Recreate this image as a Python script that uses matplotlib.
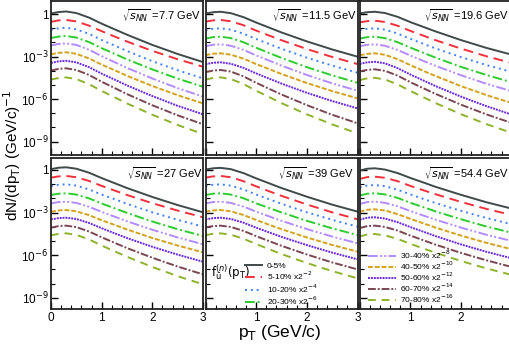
import matplotlib
matplotlib.use('Agg')
import matplotlib.pyplot as plt
import numpy as np
from matplotlib.ticker import FixedLocator, MultipleLocator, NullFormatter

plt.rcParams.update({'font.family': ['Liberation Sans', 'DejaVu Sans'],
                     'mathtext.fontset': 'dejavusans'})

# ---- data (log10 of dN/dpT) ----
pt = [0.0, 0.15, 0.3, 0.5, 0.75, 1.0, 1.25, 1.5, 2.0, 2.5, 3.0]

energies = ['7.7', '11.5', '19.6', '27', '39', '54.4']
centralities = ['0-5%', '5-10% x2$^{-2}$', '10-20% x2$^{-4}$', '20-30% x2$^{-6}$',
                '30-40% x2$^{-8}$', '40-50% x2$^{-10}$', '50-60% x2$^{-12}$',
                '60-70% x2$^{-14}$', '70-80% x2$^{-16}$']

logy_7p7 = [
    [0.04, 0.14, 0.18, 0.07, -0.25, -0.68, -1.07, -1.46, -2.18, -2.82, -3.39],
    [-0.55, -0.45, -0.42, -0.52, -0.82, -1.21, -1.58, -1.94, -2.60, -3.19, -3.72],
    [-1.11, -1.01, -0.97, -1.08, -1.40, -1.83, -2.22, -2.61, -3.33, -3.97, -4.54],
    [-1.69, -1.59, -1.55, -1.66, -1.98, -2.41, -2.80, -3.20, -3.91, -4.56, -5.13],
    [-2.22, -2.11, -2.07, -2.18, -2.52, -2.97, -3.39, -3.80, -4.55, -5.23, -5.83],
    [-2.84, -2.74, -2.70, -2.81, -3.13, -3.57, -3.96, -4.36, -5.08, -5.73, -6.31],
    [-3.45, -3.34, -3.30, -3.41, -3.75, -4.21, -4.62, -5.04, -5.79, -6.48, -7.08],
    [-3.99, -3.87, -3.83, -3.95, -4.30, -4.78, -5.21, -5.65, -6.44, -7.15, -7.78],
    [-4.63, -4.51, -4.47, -4.59, -4.95, -5.43, -5.87, -6.31, -7.11, -7.83, -8.47],
]
logy_11p5 = [
    [0.03, 0.13, 0.16, 0.06, -0.22, -0.60, -0.95, -1.30, -1.93, -2.50, -3.01],
    [-0.54, -0.45, -0.42, -0.51, -0.79, -1.17, -1.51, -1.85, -2.47, -3.03, -3.53],
    [-1.14, -1.04, -1.01, -1.10, -1.39, -1.76, -2.11, -2.45, -3.08, -3.64, -4.14],
    [-1.73, -1.63, -1.60, -1.70, -1.99, -2.38, -2.74, -3.10, -3.75, -4.33, -4.85],
    [-2.27, -2.17, -2.14, -2.24, -2.53, -2.92, -3.28, -3.64, -4.30, -4.89, -5.41],
    [-2.90, -2.80, -2.77, -2.87, -3.15, -3.53, -3.88, -4.23, -4.87, -5.44, -5.95],
    [-3.54, -3.44, -3.41, -3.51, -3.80, -4.19, -4.55, -4.91, -5.56, -6.14, -6.66],
    [-4.10, -3.99, -3.95, -4.06, -4.40, -4.85, -5.27, -5.68, -6.43, -7.11, -7.71],
    [-4.63, -4.51, -4.47, -4.59, -4.94, -5.42, -5.85, -6.29, -7.08, -7.79, -8.42],
]
logy_19p6 = [
    [0.04, 0.13, 0.16, 0.07, -0.20, -0.57, -0.90, -1.23, -1.84, -2.39, -2.87],
    [-0.59, -0.50, -0.47, -0.56, -0.83, -1.19, -1.52, -1.85, -2.44, -2.98, -3.46],
    [-1.13, -1.04, -1.01, -1.10, -1.38, -1.75, -2.09, -2.43, -3.04, -3.60, -4.09],
    [-1.73, -1.63, -1.60, -1.70, -1.99, -2.37, -2.73, -3.08, -3.73, -4.30, -4.82],
    [-2.27, -2.17, -2.14, -2.24, -2.54, -2.93, -3.30, -3.66, -4.32, -4.92, -5.45],
    [-2.91, -2.81, -2.77, -2.88, -3.19, -3.61, -4.00, -4.38, -5.09, -5.72, -6.28],
    [-3.52, -3.41, -3.37, -3.48, -3.82, -4.27, -4.68, -5.09, -5.83, -6.50, -7.10],
    [-4.05, -3.94, -3.90, -4.01, -4.35, -4.81, -5.23, -5.64, -6.40, -7.08, -7.69],
    [-4.66, -4.54, -4.50, -4.62, -4.97, -5.43, -5.86, -6.29, -7.07, -7.77, -8.39],
]
logy_27 = [
    [0.06, 0.16, 0.19, 0.09, -0.19, -0.57, -0.92, -1.27, -1.90, -2.47, -2.98],
    [-0.54, -0.45, -0.42, -0.51, -0.77, -1.12, -1.44, -1.76, -2.34, -2.86, -3.33],
    [-1.13, -1.04, -1.01, -1.10, -1.37, -1.73, -2.05, -2.38, -2.98, -3.51, -3.99],
    [-1.76, -1.67, -1.64, -1.73, -2.00, -2.36, -2.69, -3.02, -3.63, -4.17, -4.65],
    [-2.35, -2.26, -2.23, -2.32, -2.59, -2.95, -3.28, -3.61, -4.21, -4.75, -5.23],
    [-2.94, -2.85, -2.82, -2.91, -3.18, -3.54, -3.86, -4.19, -4.79, -5.32, -5.80],
    [-3.48, -3.39, -3.36, -3.45, -3.73, -4.10, -4.45, -4.79, -5.41, -5.96, -6.46],
    [-4.06, -3.95, -3.92, -4.02, -4.33, -4.74, -5.12, -5.50, -6.18, -6.80, -7.35],
    [-4.60, -4.50, -4.46, -4.57, -4.89, -5.32, -5.72, -6.11, -6.83, -7.48, -8.05],
]
logy_39 = [
    [0.03, 0.12, 0.15, 0.06, -0.22, -0.59, -0.93, -1.27, -1.88, -2.44, -2.93],
    [-0.54, -0.45, -0.42, -0.51, -0.79, -1.15, -1.49, -1.82, -2.43, -2.98, -3.47],
    [-1.13, -1.04, -1.01, -1.10, -1.37, -1.73, -2.05, -2.38, -2.98, -3.51, -3.99],
    [-1.76, -1.67, -1.64, -1.73, -1.99, -2.35, -2.67, -2.99, -3.58, -4.11, -4.58],
    [-2.35, -2.26, -2.23, -2.32, -2.58, -2.93, -3.26, -3.58, -4.16, -4.69, -5.16],
    [-2.94, -2.85, -2.82, -2.91, -3.17, -3.52, -3.85, -4.17, -4.75, -5.28, -5.75],
    [-3.48, -3.39, -3.36, -3.45, -3.71, -4.06, -4.39, -4.71, -5.29, -5.82, -6.29],
    [-4.04, -3.95, -3.92, -4.01, -4.29, -4.66, -5.00, -5.34, -5.95, -6.51, -7.00],
    [-4.59, -4.49, -4.46, -4.56, -4.84, -5.22, -5.57, -5.92, -6.55, -7.12, -7.63],
]
logy_54p4 = [
    [-0.04, 0.09, 0.12, 0.03, -0.22, -0.56, -0.87, -1.19, -1.75, -2.27, -2.72],
    [-0.63, -0.50, -0.47, -0.55, -0.79, -1.12, -1.42, -1.71, -2.25, -2.74, -3.17],
    [-1.22, -1.09, -1.06, -1.14, -1.39, -1.72, -2.03, -2.33, -2.88, -3.38, -3.82],
    [-1.80, -1.67, -1.64, -1.72, -1.97, -2.31, -2.61, -2.92, -3.47, -3.98, -4.42],
    [-2.39, -2.26, -2.23, -2.31, -2.56, -2.89, -3.20, -3.50, -4.06, -4.56, -5.00],
    [-2.93, -2.80, -2.77, -2.85, -3.11, -3.44, -3.75, -4.06, -4.62, -5.13, -5.58],
    [-3.50, -3.36, -3.33, -3.42, -3.68, -4.02, -4.34, -4.66, -5.24, -5.76, -6.22],
    [-4.09, -3.95, -3.92, -4.01, -4.27, -4.62, -4.94, -5.26, -5.84, -6.36, -6.83],
    [-4.68, -4.54, -4.51, -4.60, -4.86, -5.20, -5.52, -5.83, -6.41, -6.93, -7.39],
]
panels = [logy_7p7, logy_11p5, logy_19p6, logy_27, logy_39, logy_54p4]

# ---- styles ----
colors = ['#3f4a4a', '#f2303c', '#3f82ff', '#2ecc2e', '#b48cff',
          '#d4a21c', '#6a28e0', '#7a4750', '#8db32c']
dashes = [None, (5, 3), (1, 2), (5, 1.5, 1, 1.5), (5, 1.2, 1, 1.2, 1, 1.2),
          (2.5, 1), (1, 0.5), (4, 1, 1, 1), (4, 3)]

W, H = 509, 349
fig = plt.figure(figsize=(W / 100, H / 100), dpi=100)

col_left = [51, 205.5, 359.7]
col_w = 152
rows = [(1, 155, (-9.95, 0.92)), (157.5, 309, (-9.79, 0.88))]
label_x = [0.47, 0.435, 0.423, 0.50, 0.48, 0.423]

axes = []
for r, (ytop, ybot, (lo, hi)) in enumerate(rows):
    for c in range(3):
        i = r * 3 + c
        ax = fig.add_axes([col_left[c] / W, (H - ybot) / H, col_w / W, (ybot - ytop) / H])
        x = np.array(pt)
        for k, ly in enumerate(panels[i]):
            line, = ax.plot(x, 10 ** np.array(ly), color=colors[k], lw=1.4,
                            label=centralities[k])
            if dashes[k] is not None:
                line.set_dashes(dashes[k])
        ax.set_yscale('log')
        ax.set_xlim(0, 3)
        ax.set_ylim(10 ** lo, 10 ** hi)
        ax.yaxis.set_major_locator(FixedLocator([1e-9, 1e-6, 1e-3, 1]))
        ax.yaxis.set_minor_locator(FixedLocator([10.0 ** e for e in range(-10, 1)]))
        ax.yaxis.set_minor_formatter(NullFormatter())
        ax.xaxis.set_major_locator(MultipleLocator(1))
        ax.xaxis.set_minor_locator(MultipleLocator(0.2))
        ax.tick_params(which='both', direction='in', top=False, right=False,
                       labelsize=8.5, pad=2)
        ax.tick_params(which='major', length=5, width=1)
        ax.tick_params(which='minor', length=3, width=0.8)
        for s in ax.spines.values():
            s.set_linewidth(1.3)
            s.set_color('#222222')
        if c == 0:
            ax.set_yticklabels(['10$^{-9}$', '10$^{-6}$', '10$^{-3}$', '1'])
        else:
            ax.set_yticklabels([])
        ax.set_xticks([0, 1, 2, 3])
        if r == 0:
            ax.set_xticklabels([])
        else:
            labs = [['0', '1', '2', '3'], ['', '1', '2', '3'], ['', '1', '2', '']][c]
            ax.set_xticklabels(labs)
        ax.text(label_x[i], 0.905 if r == 0 else 0.895,
                r'$\sqrt{s_{NN}}$ =' + energies[i] + ' GeV',
                transform=ax.transAxes, ha='left', va='center', fontsize=8)
        axes.append(ax)

# legends
h, l = axes[4].get_legend_handles_labels()
axes[4].legend(h[:4], l[:4], loc='upper left', bbox_to_anchor=(0.26, 0.31),
               frameon=False, fontsize=6.0, handlelength=2.0, handletextpad=0.6,
               labelspacing=0.0, borderaxespad=0, borderpad=0)
axes[4].text(0.036, 0.244, r'$\mathrm{f}^{(n)}_{\bar{\mathrm{u}}}(\mathrm{p_T})$',
             transform=axes[4].transAxes, fontsize=8.5, ha='left', va='center')
h, l = axes[5].get_legend_handles_labels()
axes[5].legend(h[4:], l[4:], loc='upper left', bbox_to_anchor=(0.055, 0.40),
               frameon=False, fontsize=6.0, handlelength=3.4, handletextpad=0.4,
               labelspacing=-0.15, borderaxespad=0, borderpad=0)

fig.text(280 / W, 1 - 333 / H, r'p$_\mathrm{T}$ (GeV/c)', ha='center', va='center', fontsize=12.5)
fig.text(12 / W, 1 - 155 / H, r'dN/(dp$_\mathrm{T}$) (GeV/c)$^{-1}$', ha='center', va='center',
         rotation=90, fontsize=11)

fig.savefig('out.png', dpi=100)
